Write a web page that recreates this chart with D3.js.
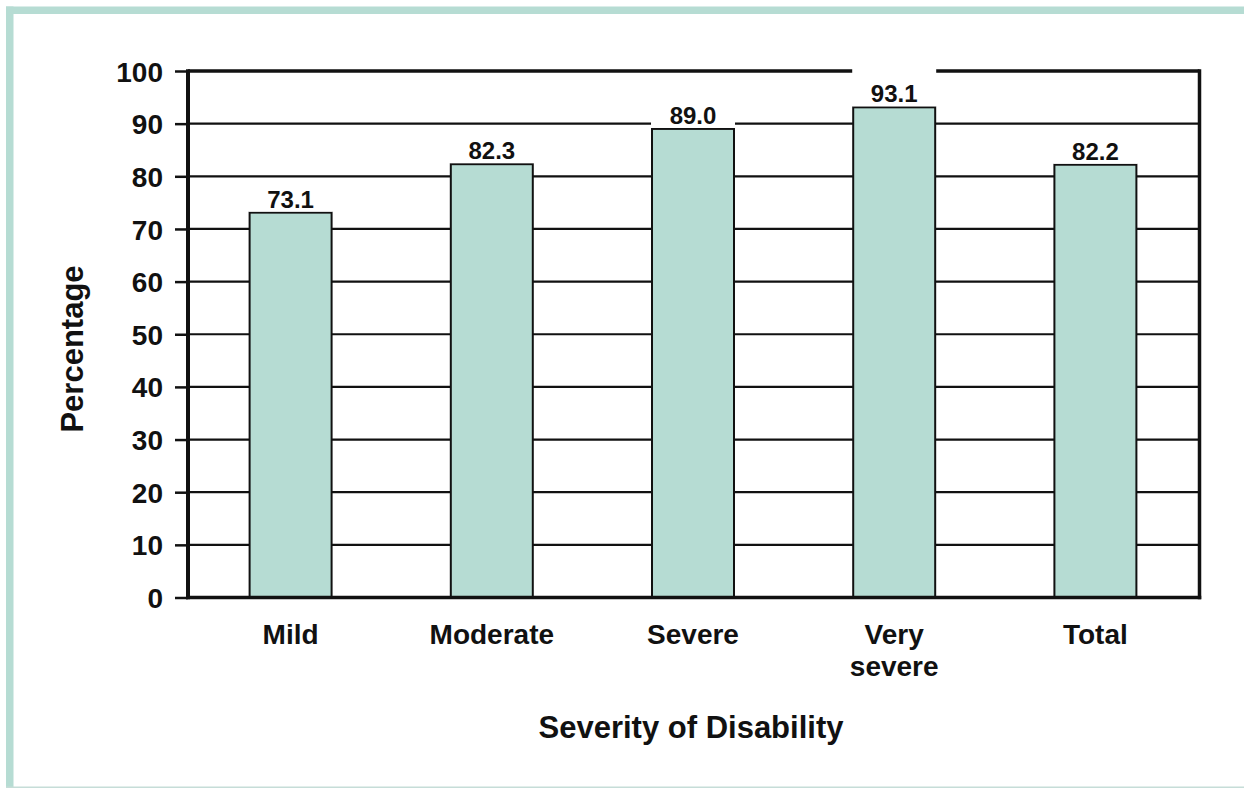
<!DOCTYPE html>
<html>
<head>
<meta charset="utf-8">
<script src="https://cdn.jsdelivr.net/npm/d3@7"></script>
<style>
  html, body { margin: 0; padding: 0; background: #fff; }
  svg { display: block; font-family: "Liberation Sans", Arial, Helvetica, sans-serif; font-weight: bold; }
</style>
</head>
<body>
<svg id="chart" width="1244" height="788"></svg>
<script>
// Share of people, by severity of disability
const categories = ["Mild", "Moderate", "Severe", "Very severe", "Total"];
const values = [73.1, 82.3, 89.0, 93.1, 82.2];
const valueLabels = ["73.1", "82.3", "89.0", "93.1", "82.2"];
const yTicks = [0, 10, 20, 30, 40, 50, 60, 70, 80, 90, 100];
const yTitle = "Percentage";
const xTitle = "Severity of Disability";

const teal = "#b6dcd3";
const ink = "#111";

const svg = d3.select("#chart");

// Frame decoration: thick teal rule on left and top, thin rule at the bottom
svg.append("rect").attr("x", 6).attr("y", 6.5).attr("width", 7.5).attr("height", 781.5).attr("fill", teal);
svg.append("rect").attr("x", 6).attr("y", 6.5).attr("width", 1238).attr("height", 7.5).attr("fill", teal);
svg.append("rect").attr("x", 6).attr("y", 786.5).attr("width", 1238).attr("height", 1.5).attr("fill", "#c6ddd8");

const plot = { left: 188, right: 1199.5, top: 71, bottom: 597.5 };

const x = d3.scaleBand()
  .domain(categories)
  .range([190, 1196])
  .paddingInner(0.5925)
  .paddingOuter(0.29625);

const y = d3.scaleLinear()
  .domain([0, 100])
  .range([plot.bottom, plot.top]);

// Horizontal gridlines (100 line is the heavy top edge of the frame)
svg.append("g")
  .selectAll("line")
  .data(yTicks.filter(d => d > 0))
  .join("line")
  .attr("x1", plot.left)
  .attr("x2", plot.right)
  .attr("y1", d => y(d))
  .attr("y2", d => y(d))
  .attr("stroke", ink)
  .attr("stroke-width", d => d === 100 ? 3.5 : 2.2);

// Bars
svg.append("g")
  .selectAll("rect")
  .data(values)
  .join("rect")
  .attr("x", (d, i) => x(categories[i]))
  .attr("width", x.bandwidth())
  .attr("y", d => y(d))
  .attr("height", d => y(0) - y(d))
  .attr("fill", teal)
  .attr("stroke", ink)
  .attr("stroke-width", 2);

// White knock-out boxes behind the value labels; a box that nearly reaches
// the top edge of the frame is stretched so it breaks that edge cleanly
const boxTop = d => {
  const t = y(d) - 34;
  return t < y(100) + 10 ? y(100) - 2.5 : t;
};
svg.append("g")
  .selectAll("rect")
  .data(values)
  .join("rect")
  .attr("x", (d, i) => x(categories[i]) - 1)
  .attr("width", x.bandwidth() + 2)
  .attr("y", d => boxTop(d))
  .attr("height", d => y(d) - 1 - boxTop(d))
  .attr("fill", "#fff");

svg.append("g")
  .selectAll("text")
  .data(values)
  .join("text")
  .attr("x", (d, i) => x(categories[i]) + x.bandwidth() / 2)
  .attr("y", d => y(d) - 5)
  .attr("text-anchor", "middle")
  .attr("font-size", 24)
  .attr("fill", ink)
  .text((d, i) => valueLabels[i]);

// Y axis with outside ticks
const yAxis = svg.append("g")
  .attr("transform", `translate(${plot.left},0)`)
  .call(d3.axisLeft(y).tickValues(yTicks).tickSize(13).tickSizeOuter(0).tickPadding(12));
yAxis.select(".domain").remove();
yAxis.selectAll(".tick line").attr("stroke", ink).attr("stroke-width", 2.5);
yAxis.selectAll(".tick text")
  .attr("font-size", 28)
  .attr("font-family", "Liberation Sans, Arial, sans-serif")
  .attr("font-weight", "bold")
  .attr("fill", ink)
  .attr("dy", "0.36em");

// Left, right and bottom edges of the frame
svg.append("line").attr("x1", plot.left).attr("x2", plot.left).attr("y1", plot.top - 1.75).attr("y2", plot.bottom + 1.75)
  .attr("stroke", ink).attr("stroke-width", 4);
svg.append("line").attr("x1", plot.right).attr("x2", plot.right).attr("y1", plot.top - 1.75).attr("y2", plot.bottom + 1.75)
  .attr("stroke", ink).attr("stroke-width", 3.5);
svg.append("line").attr("x1", plot.left - 2).attr("x2", plot.right + 1.75).attr("y1", plot.bottom).attr("y2", plot.bottom)
  .attr("stroke", ink).attr("stroke-width", 3.5);

// Category labels, wrapped onto extra lines when wider than the bar slot
const xAxis = svg.append("g")
  .attr("transform", `translate(0,${plot.bottom})`)
  .call(d3.axisBottom(x).tickSize(0).tickPadding(0));
xAxis.select(".domain").remove();
xAxis.selectAll(".tick text")
  .attr("font-size", 28)
  .attr("font-family", "Liberation Sans, Arial, sans-serif")
  .attr("font-weight", "bold")
  .attr("fill", ink)
  .attr("y", 46.5)
  .attr("dy", 0)
  .each(function (d) {
    const t = d3.select(this);
    const words = d.split(" ");
    if (words.length > 1 && this.getComputedTextLength() > 130) {
      t.text(null);
      words.forEach((w, i) => {
        t.append("tspan").attr("x", 0).attr("dy", i === 0 ? 0 : 32).text(w);
      });
    }
  });

// Axis titles
svg.append("text")
  .attr("transform", `translate(83,349) rotate(-90)`)
  .attr("text-anchor", "middle")
  .attr("font-size", 31)
  .attr("fill", ink)
  .text(yTitle);

svg.append("text")
  .attr("x", 691)
  .attr("y", 738)
  .attr("text-anchor", "middle")
  .attr("font-size", 31)
  .attr("fill", ink)
  .text(xTitle);
</script>
</body>
</html>
